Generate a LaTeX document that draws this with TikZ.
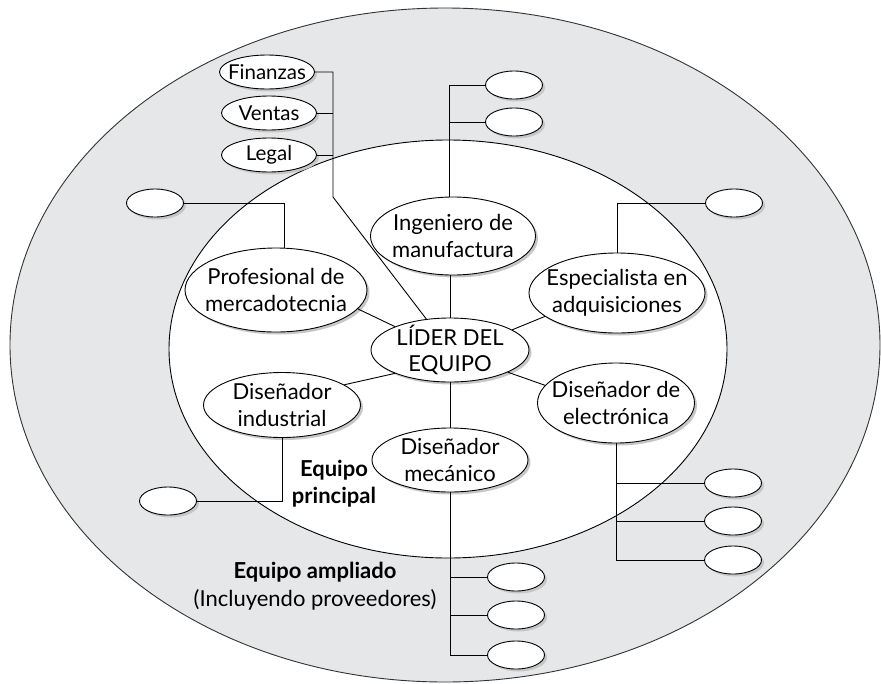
\documentclass[tikz,border=0pt]{standalone}
\usepackage{fontspec}
\setmainfont{Lato}
\usetikzlibrary{shapes.geometric,shadows}
\definecolor{ringgray}{HTML}{E6E7E8}
\begin{document}
\begin{tikzpicture}[x=1pt,y=-1pt, line width=0.9pt,
  base/.style={ellipse, draw, fill=white, inner sep=0pt,
    drop shadow={shadow xshift=2.5pt, shadow yshift=-2.5pt, fill=black!22, opacity=1}},
  rtext/.style={align=center, inner sep=0pt, font=\fontsize{22}{26.5}\selectfont},
  dtext/.style={align=center, inner sep=0pt, font=\fontsize{20.5}{24}\selectfont},
  role/.style={base, label={[rtext]center:{#1}}},
  dept/.style={base, minimum width=95pt, minimum height=34pt, label={[dtext]center:{#1}}},
  blank/.style={base, minimum width=57pt, minimum height=28pt},
  lbl/.style={align=center, inner sep=0pt, font=\fontsize{22}{27.5}\selectfont}
]
\useasboundingbox (0,0) rectangle (881,683);
\clip (0,0) rectangle (881,683);
% rings
\draw[fill=ringgray, draw=black!80] (445,345) ellipse [x radius=435, y radius=337];
\draw[fill=white] (448,349) ellipse [x radius=279, y radius=209];

% nodes
\node[dept={Finanzas}] (fin) at (267,72) {};
\node[dept={Ventas}] (ven) at (269,113) {};
\node[dept={Legal}] (leg) at (269,155) {};

\node[role={Profesional de\\mercadotecnia}, minimum width=182pt, minimum height=84pt] (prof) at (276,290) {};
\node[role={Ingeniero de\\manufactura}, minimum width=165pt, minimum height=78pt] (ing) at (453,236) {};
\node[role={Especialista en\\adquisiciones}, minimum width=176pt, minimum height=80pt] (esp) at (617,293) {};
\node[role={LÍDER DEL\\EQUIPO}, minimum width=158pt, minimum height=64pt] (lider) at (450,350) {};
\node[role={Diseñador\\industrial}, minimum width=157pt, minimum height=65pt] (ind) at (282,405) {};
\node[role={Diseñador\\mecánico}, minimum width=156pt, minimum height=64pt] (mec) at (450,460) {};
\node[role={Diseñador de\\electrónica}, minimum width=157pt, minimum height=80pt] (ele) at (616,403) {};

\node[blank] (bl1) at (155,203) {};
\node[blank] (bt1) at (514,85) {};
\node[blank] (bt2) at (514,122) {};
\node[blank] (br) at (734,203) {};
\node[blank] (bl2) at (168,501) {};
\node[blank] (bm1) at (516,577) {};
\node[blank] (bm2) at (516,615) {};
\node[blank] (bm3) at (516,655) {};
\node[blank] (be1) at (733,483) {};
\node[blank] (be2) at (733,521) {};
\node[blank] (be3) at (733,560) {};

\node[lbl, font=\fontsize{22}{27}\selectfont\bfseries] (ep) at (334,484) {Equipo\\principal};
\node[lbl] (ea) at (315,586) {\textbf{Equipo ampliado}\\(Incluyendo proveedores)};

% connectors
\coordinate (jf) at (333,197);
\draw (fin.east) -- (fin.east -| jf) -- (jf) -- (lider);
\draw (ven.east) -- (ven.east -| jf);
\draw (leg.east) -- (leg.east -| jf);

\coordinate (k1) at (284,203);
\draw (bl1.east) -- (k1) -- (k1 |- prof.north);
\draw (prof.-13) -- (lider.157);

\coordinate (t1) at (449,85);
\draw (bt1.west) -- (t1) -- (t1 |- ing.north);
\draw (bt2.west) -- (bt2.west -| t1);
\draw (lider.north) -- (lider.north |- ing.south);

\draw (br.west) -| (esp.north);
\draw (lider.18) -- (esp.198);

\draw (lider.203) -- (ind.18);
\draw (ind.south) |- (bl2.east);

\draw (lider.-21) -- (ele.166);
\draw (ele.south) |- (be3.west);
\draw (be1.west) -- (be1.west -| ele.south);
\draw (be2.west) -- (be2.west -| ele.south);

\draw (lider.south) -- (mec.north);
\draw (mec.south) |- (bm3.west);
\draw (bm1.west) -- (bm1.west -| mec.south);
\draw (bm2.west) -- (bm2.west -| mec.south);
\end{tikzpicture}
\end{document}
